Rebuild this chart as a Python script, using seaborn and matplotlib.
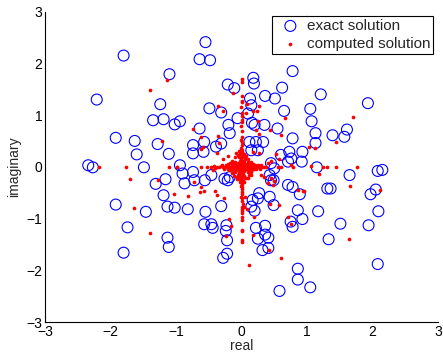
import numpy as np
import pandas as pd
import matplotlib
matplotlib.use("Agg")
import matplotlib.pyplot as plt
import seaborn as sns

# exact solution (blue open circles)
exact_re = [-1.80, -1.10, -2.21, -1.24, -0.55, -0.64, -0.48, 0.78, 0.18, 0.19,
            -0.21, -0.11, 0.62, 0.13, 0.36, 0.51, -0.49, -0.31, 0.65, 1.05,
            1.21, 1.93, 1.00, 0.15, -0.06, 0.10, 0.16, 0.20, 0.35, 0.55,
            0.78, 1.07, 1.61, 1.57, 1.39, 1.13, 1.13, 0.93, 0.92, 1.15,
            1.65, 2.08, 2.15, 1.31, 1.36, 2.05, 1.97, 0.89, 1.17, 2.09,
            -1.35, -1.19, -1.02, -0.94, -1.92, -1.63, -1.28, -1.60, -1.11, -2.34,
            -2.27, -1.49, -0.94, -1.16, -1.31, -1.19, -1.92, -1.13, -1.02, -1.46,
            -1.74, -1.13, -1.11, -1.80, -0.82, -0.55, -0.31, 0.20, 0.49, 0.86,
            0.93, 0.75, 0.78, -0.57, -0.46, -0.44, -0.23, -0.24, -0.22, -0.22,
            -0.28, 0.22, 0.36, 0.36, 0.25, 0.41, 0.32, 0.41, 0.86, 0.86,
            0.58, 1.05, 1.51, 1.94, 1.33, 2.08, -0.64, -0.20, -0.74, -0.57,
            -0.39, -0.31, -0.18, -0.74, -0.58, -0.90, -0.74, -0.87, -0.72, -0.56,
            -0.46, -0.26, -0.21, -0.18, 0.12, 0.22, 0.33, 0.15, 0.25, 0.73,
            0.60, 0.71, 0.76, 0.45, 0.50, 0.43, 0.45, 0.49, 0.71, 0.78,
            0.27, 0.17, 0.25, 0.43, 0.15]
exact_im = [2.15, 1.79, 1.30, 1.21, 2.41, 2.08, 2.06, 1.85, 1.72, 1.61,
            1.59, 1.52, 1.53, 1.32, 1.37, 1.32, 1.13, 1.05, 1.08, 1.12,
            1.40, 1.23, 2.80, 1.19, 0.94, 1.03, 0.85, 0.81, 0.81, 0.74,
            0.55, 0.88, 0.72, 0.58, 0.61, 0.65, 0.46, 0.29, 0.10, -0.01,
            -0.16, -0.08, -0.06, -0.42, -0.42, -0.44, -0.53, -0.53, -0.86, -0.86,
            0.90, 0.92, 0.82, 0.88, 0.56, 0.50, 0.44, 0.24, 0.25, 0.03,
            -0.01, -0.01, 0.03, -0.24, -0.33, -0.55, -0.73, -0.77, -0.79, -0.87,
            -1.17, -1.37, -1.55, -1.66, -0.82, -0.87, -0.76, -0.85, -0.74, -0.84,
            -1.01, -1.06, -1.16, -1.11, -1.11, -1.18, -1.13, -1.24, -1.42, -1.68,
            -1.76, -1.18, -1.14, -1.31, -1.39, -1.37, -1.61, -1.57, -1.97, -2.18,
            -2.40, -2.33, -1.10, -1.13, -1.40, -1.88, 0.74, 0.81, 0.42, 0.48,
            0.39, 0.45, 0.65, 0.26, 0.29, -0.13, -0.10, -0.32, -0.26, -0.26,
            -0.16, -0.23, -0.26, -0.20, 0.48, 0.48, 0.48, 0.32, 0.32, 0.29,
            0.23, 0.10, 0.16, 0.07, -0.03, -0.16, -0.26, -0.26, -0.35, -0.39,
            -0.51, -0.64, -0.61, -0.58, -0.77]

# computed solution (red dots)
comp_re = [-1.13, -1.39, 0.00, 0.00, -0.13, 0.00, 0.00, 0.08, 0.27, -0.36,
           -0.28, 0.18, 0.23, 0.00, 0.07, -0.01, 0.01, 0.00,
           -1.22, -2.18, -1.77, -1.70, -1.27, -1.10, -0.99, -1.03, -1.64,
           1.70, 1.45, 1.03, 1.12, 1.06, 1.25, 1.30, 1.45, 1.76, 1.18, 1.65, 2.11, 0.95,
           -1.39, 0.00, 0.00, 0.00, 0.08, 0.00, -0.19, -0.16, 0.19, 0.00, 0.00, 0.00, 0.00,
           -0.24, 0.18, 0.42, 0.60, 0.12, 0.58, 1.64,
           -0.74, -0.62, -0.62, -0.59, -0.36, -0.34, -0.37, -0.29, -0.21, -0.08,
           -0.98, -0.53, -0.62, -0.41, -0.44, -0.72, -0.62, -0.58, -0.63, -0.40, -0.82, -0.26,
           0.25, 0.22, 0.44, 0.60, 0.66, 0.17, 0.27, 0.53, 0.58, 0.45, 0.40, 0.38,
           0.76, 0.78, 0.55, 0.60, 0.15, 0.10, 0.30, 0.35, 0.45, 0.50, 0.40, 0.48,
           0.86, 0.94, 0.05, 0.00, 0.02, 0.04, 0.43, 0.71, 0.76, 0.27, -0.38,
           # real-axis arm
           -0.46, -0.42, -0.38, -0.35, -0.31, -0.28, -0.25, -0.22, -0.19, -0.16,
           -0.14, -0.12, -0.10, -0.08, -0.06, -0.04, -0.02, 0.02, 0.04, 0.06,
           0.08, 0.10, 0.12, 0.14, 0.17, 0.20, 0.23, 0.26, 0.29, 0.32, 0.35,
           -0.30, -0.24, -0.20, -0.15, -0.11, -0.07, 0.07, 0.11, 0.15, 0.20, 0.25, 0.30,
           -0.27, -0.21, -0.17, -0.13, -0.09, 0.09, 0.13, 0.18, 0.22, 0.28,
           # imaginary-axis arm
           0.01, -0.01, 0.00, 0.01, -0.01, 0.00, 0.01, -0.02, 0.02, 0.00,
           -0.01, 0.01, 0.00, -0.02, 0.02, 0.00, 0.01, -0.01, 0.00, 0.02,
           -0.02, 0.01, -0.01, 0.00, 0.01, -0.01, 0.00, 0.01, 0.00,
           0.00, -0.01, 0.01, 0.00, 0.00, -0.01, 0.00, 0.01, 0.00,
           -0.04, 0.04, -0.04, 0.04, -0.04, 0.04, -0.04, 0.04,
           # central cluster
           -0.08, -0.05, -0.03, 0.03, 0.06, 0.09, 0.07, 0.04, 0.02, -0.03,
           -0.06, -0.09, 0.00, 0.12, -0.12, 0.05, -0.05, 0.10, -0.10, 0.10,
           -0.10, 0.15, -0.15, 0.15, -0.15, 0.07, -0.07, 0.18, -0.18, 0.05,
           -0.20, -0.18, -0.14, -0.10, -0.06, -0.03, 0.03, 0.06, 0.10, 0.14,
           0.18, 0.21, 0.19, 0.15, 0.11, 0.07, 0.03, -0.03, -0.07, -0.11,
           -0.15, -0.19, -0.05, 0.05, 0.03, -0.03, 0.08, -0.08, 0.00, 0.00]
comp_im = [1.67, 1.48, 1.70, 1.63, 1.42, 1.37, 1.27, 1.21, 1.17, 1.17,
           1.08, 1.08, 1.08, 1.04, 1.04, 1.16, 0.98, 0.90,
           0.50, 0.00, 0.00, -0.24, -0.26, 0.00, 0.00, -0.53, -0.80,
           0.97, 0.47, 0.39, 0.36, 0.02, 0.00, 0.00, 0.00, 0.00, -0.14, -0.37, -0.44, -0.47,
           -1.27, -0.77, -0.82, -0.85, -0.82, -0.98, -1.01, -1.14, -0.97, -1.22, -1.24, -1.42, -1.45,
           -1.33, -1.31, -1.61, -1.77, -1.89, -0.74, -1.40,
           0.73, 0.57, 0.34, 0.39, 0.59, 0.46, 0.26, 0.16, 0.21, 0.27,
           0.00, 0.00, 0.00, -0.03, -0.06, -0.29, -0.40, -0.46, -0.48, -0.46, -0.57, -0.61,
           0.89, 0.72, 0.71, 0.61, 0.94, 0.29, 0.27, 0.25, 0.16, 0.11, 0.07, 0.00,
           0.03, 0.00, 0.00, 0.00, -0.16, -0.22, -0.16, -0.19, -0.22, -0.27, -0.31, -0.35,
           -0.44, -0.46, -0.58, -0.61, -0.71, -0.77, -0.71, -0.97, -1.10, 0.63, -0.55,
           # real-axis arm
           0.00, 0.01, -0.01, 0.00, 0.01, -0.01, 0.00, 0.02, -0.02, 0.00,
           0.01, -0.01, 0.02, -0.02, 0.01, 0.00, 0.02, -0.02, 0.00, 0.01,
           -0.01, 0.00, 0.02, -0.01, 0.00, 0.01, -0.01, 0.00, 0.01, 0.00, -0.01,
           0.04, 0.04, 0.05, 0.04, 0.05, 0.04, 0.05, 0.04, 0.05, 0.04, 0.04, 0.03,
           -0.04, -0.05, -0.04, -0.05, -0.04, -0.05, -0.04, -0.05, -0.04, -0.04,
           # imaginary-axis arm
           0.58, 0.52, 0.47, 0.42, 0.37, 0.33, 0.29, 0.25, 0.21, 0.18,
           0.15, 0.12, 0.09, 0.06, 0.03, -0.03, -0.06, -0.09, -0.12, -0.15,
           -0.18, -0.22, -0.26, -0.30, -0.34, -0.38, -0.43, -0.48, -0.52,
           0.70, 0.78, 0.86, 1.26, -0.39, -0.58, -0.66, -0.90, -1.03,
           0.30, 0.24, 0.18, 0.12, -0.12, -0.18, -0.24, -0.30,
           # central cluster
           0.05, 0.08, 0.12, 0.10, 0.06, 0.03, -0.05, -0.09, -0.13, -0.10,
           -0.06, -0.03, 0.00, -0.04, 0.04, 0.15, -0.15, 0.10, -0.10, -0.10,
           0.10, 0.07, -0.07, -0.07, 0.07, 0.20, -0.20, 0.02, -0.02, -0.22,
           0.02, 0.08, 0.12, 0.18, 0.22, 0.28, 0.25, 0.20, 0.15, 0.10,
           0.06, 0.02, -0.05, -0.10, -0.16, -0.22, -0.28, -0.30, -0.24, -0.17,
           -0.12, -0.06, 0.03, -0.03, 0.05, -0.05, 0.00, 0.00, 0.08, -0.08]

sns.set_style("white")
plt.rcParams['font.family'] = ['Liberation Sans', 'DejaVu Sans']

fig = plt.figure(figsize=(4.43, 3.57), dpi=100)
ax = fig.add_axes([45 / 443, 1 - 322 / 357, (438 - 45) / 443, (322 - 11.6) / 357])

sns.scatterplot(x=exact_re, y=exact_im, ax=ax, marker='o', s=62,
                facecolor='none', edgecolor='blue', linewidth=0.8,
                label='exact solution', zorder=2)
sns.scatterplot(x=comp_re, y=comp_im, ax=ax, marker='o', s=7,
                color='red', edgecolor='red', linewidth=0,
                label='computed solution', zorder=3)

ax.set_xlim(-3, 3)
ax.set_ylim(-3, 3)
ax.set_xticks([-3, -2, -1, 0, 1, 2, 3])
ax.set_yticks([-3, -2, -1, 0, 1, 2, 3])
ax.set_xticklabels(['\u22123', '\u22122', '\u22121', '0', '1', '2', '3'])
ax.set_yticklabels(['\u22123', '\u22122', '\u22121', '0', '1', '2', '3'])
ax.tick_params(direction='in', length=3, width=0.8, labelsize=10, pad=2,
               colors='black')
for side in ['top', 'right']:
    ax.spines[side].set_visible(False)
for side in ['left', 'bottom']:
    ax.spines[side].set_color('black')
    ax.spines[side].set_linewidth(0.8)
ax.grid(False)
ax.set_xlabel('real', fontsize=10, labelpad=0)
ax.set_ylabel('imaginary', fontsize=10, labelpad=4)

leg = ax.legend(loc='upper right', fontsize=11, frameon=True, fancybox=False,
                framealpha=1, edgecolor='black', borderpad=0.18,
                labelspacing=0.27, handlelength=2.1, handletextpad=0.05,
                borderaxespad=0.3)
leg.get_frame().set_linewidth(0.8)
leg.set_zorder(10)

fig.savefig('out.png', dpi=100)
